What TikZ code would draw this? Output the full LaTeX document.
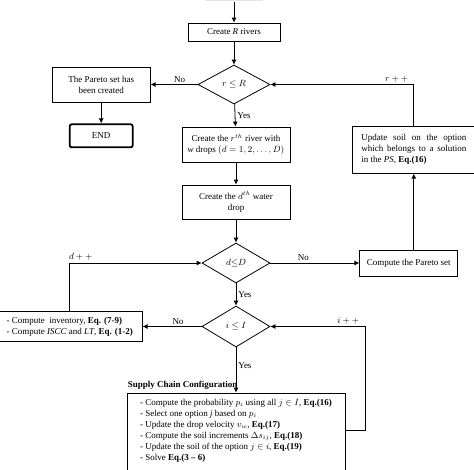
\documentclass[tikz,border=0pt]{standalone}
\usepackage{fontspec}
\setmainfont{Liberation Serif}
\usetikzlibrary{shapes.geometric, arrows.meta, positioning}

\begin{document}
\begin{tikzpicture}[
		node distance=22pt,
		font=\fontsize{9}{11}\selectfont,
		% Define styles
		process/.style={rectangle, text centered, draw=black, line width=0.8pt, inner sep=3pt},
		decision/.style={diamond, draw=black, line width=0.8pt, inner sep=0pt, aspect=1.7, minimum width=68pt, minimum height=40pt},
		endstyle/.style={rectangle, draw=black, line width=1.8pt, rounded corners=2pt, minimum width=63pt, minimum height=23pt},
		listbox/.style={rectangle, draw=black, line width=0.8pt, align=left},
		arrow/.style={line width=0.8pt,-{Latex[length=5pt,width=5pt]}},
		lbl/.style={inner sep=2pt}
		]
		\clip (0,0) rectangle (474pt,-469pt);
		
		% Main column
		\node (rivers) [process, minimum width=92pt, minimum height=18pt] at (234pt,-32pt) {Create \textit{R} rivers};
		\node (prev) [rectangle, fill=gray!20, minimum width=58pt, minimum height=20pt, above=21pt of rivers] {};
		\node (rdiam) [decision, minimum width=72pt, minimum height=39pt, below=23.2pt of rivers] {$r \leq R$};
		\node (river) [process, align=center, minimum width=108pt, minimum height=35pt, below=22.2pt of rdiam, xshift=2pt] {Create the $r^{th}$ river with\\ \textit{w} drops $(d = 1,2,\ldots,D)$};
		\node (drop) [process, align=center, minimum width=108pt, minimum height=34pt, below=22.2pt of river] {Create the $d^{th}$ water\\ drop};
		\node (ddiam) [decision, below=23.2pt of drop] {$d{\leq}D$};
		\node (idiam) [decision, minimum height=41pt, below=22.2pt of ddiam] {$i \leq I$};
		\node (supply) [listbox, minimum width=218pt, inner xsep=9pt, inner ysep=6pt, below=45.2pt of idiam,
		label={[anchor=south west, inner sep=1pt, yshift=2pt, font=\fontsize{9}{11}\selectfont\bfseries]north west:Supply Chain Configuration}] {%
			- Compute the probability $p_i$ using all $j \in I$, \textbf{Eq.(16)}\\
			- Select one option \textit{j} based on $p_i$\\
			- Update the drop velocity $v_w$, \textbf{Eq.(17)}\\
			- Compute the soil increments $\Delta s_{ij}$, \textbf{Eq.(18)}\\
			- Update the soil of the option $j \in i$, \textbf{Eq.(19)}\\
			- Solve \textbf{Eq.(3 -- 6)}\\
			\mbox{}};
		
		% Left side
		\node (pareto) [process, align=center, minimum width=98pt, minimum height=35pt, left=47pt of rdiam] {The Pareto set has\\ been created};
		\node (endn) [endstyle, below=21pt of pareto] {END};
		\node (inv) [listbox, minimum width=145pt, minimum height=30pt, left=59pt of idiam] {%
			- Compute \ inventory, \textbf{Eq. (7-9)}\\
			- Compute \textit{ISCC} and \textit{LT}, \textbf{Eq. (1-2)}};
		
		% Right side
		\node (pset) [process, minimum width=98pt, minimum height=26pt, right=89pt of ddiam] {Compute the Pareto set};
		\node (update) [process, text width=105pt, align=justify, inner sep=8.5pt, minimum height=44pt, above=76pt of pset, xshift=5pt] {Update soil on the option\linebreak which belongs to a solution\linebreak in the \textit{PS}, \textbf{Eq.(16)}};
		
		% Draw arrows
		\draw [arrow] (prev) -- (rivers);
		\draw [arrow] (rivers) -- (rdiam);
		\draw [arrow] (rdiam) -- (river) node[lbl, midway, right] {Yes};
		\draw [arrow] (rdiam) -- (pareto) node[lbl, pos=0.38, above] {No};
		\draw [arrow] (pareto) -- (endn);
		\draw [arrow] (river) -- (drop);
		\draw [arrow] (drop) -- (ddiam);
		\draw [arrow] (ddiam) -- (idiam) node[lbl, midway, right] {Yes};
		\draw [arrow] (ddiam) -- (pset) node[lbl, pos=0.37, above] {No};
		\draw [arrow] (pset.north -| update.south) -- (update.south);
		\draw [arrow] (update.north) |- (rdiam.east) node[lbl, pos=0.56, above] {$r++$};
		\draw [arrow] (idiam) -- (inv) node[lbl, pos=0.4, above] {No};
		\draw [arrow] (inv.north) |- (ddiam.west) node[lbl, pos=0.5, anchor=south west, xshift=-3pt] {$d++$};
		\draw [arrow] (idiam) -- (supply) node[lbl, pos=0.4, right] {Yes};
		\coordinate (sout) at ([yshift=-38pt]supply.north east);
		\coordinate (iloop) at ([xshift=20pt]sout);
		\draw [arrow] (sout) -- (iloop) |- (idiam.east) node[lbl, pos=0.59, above] {$i++$};
		
	\end{tikzpicture}
\end{document}
